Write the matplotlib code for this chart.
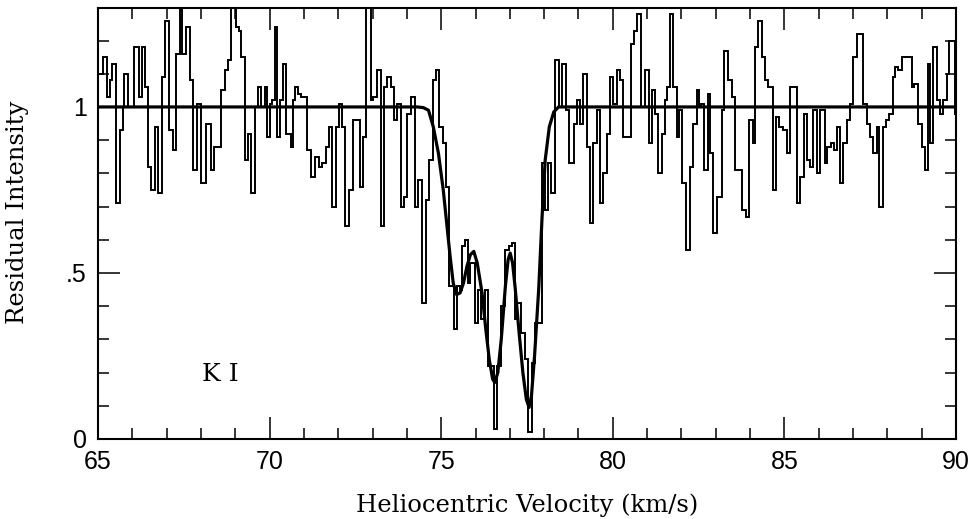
import matplotlib
matplotlib.use("Agg")
import matplotlib.pyplot as plt
from matplotlib.ticker import MultipleLocator

# observed spectrum: left edge of each step (km/s) and residual intensity
bin_left = [
    65.00, 65.14, 65.25, 65.35, 65.41, 65.52, 65.64, 65.72, 65.76, 65.87,
    66.06, 66.19, 66.27, 66.38, 66.47, 66.54, 66.67, 66.76, 66.86, 66.95,
    67.06, 67.18, 67.27, 67.39, 67.45, 67.56, 67.69, 67.78, 67.88, 68.01,
    68.15, 68.29, 68.39, 68.59, 68.69, 68.79, 68.87, 69.03, 69.10, 69.18,
    69.27, 69.37, 69.47, 69.58, 69.66, 69.76, 69.86, 69.93, 70.00, 70.07,
    70.15, 70.22, 70.29, 70.39, 70.49, 70.61, 70.68, 70.75, 70.83, 70.91,
    71.08, 71.20, 71.33, 71.43, 71.53, 71.63, 71.72, 71.82, 71.94, 72.03,
    72.10, 72.20, 72.32, 72.42, 72.62, 72.71, 72.81, 72.95, 73.02, 73.14,
    73.24, 73.33, 73.43, 73.53, 73.62, 73.72, 73.82, 73.91, 74.01, 74.11,
    74.24, 74.33, 74.43, 74.56, 74.65, 74.75, 74.85, 74.95, 75.04, 75.14,
    75.24, 75.38, 75.45, 75.55, 75.61, 75.68, 75.78, 75.85, 75.98, 76.07,
    76.17, 76.27, 76.36, 76.53, 76.63, 76.75, 76.85, 76.97, 77.06, 77.14,
    77.21, 77.33, 77.43, 77.53, 77.65, 77.72, 77.94, 78.01, 78.11, 78.21,
    78.31, 78.42, 78.52, 78.64, 78.73, 78.86, 78.96, 79.03, 79.12, 79.24,
    79.34, 79.43, 79.53, 79.63, 79.72, 79.82, 79.92, 80.02, 80.11, 80.21,
    80.31, 80.54, 80.62, 80.70, 80.83, 80.93, 81.05, 81.15, 81.23, 81.32,
    81.44, 81.51, 81.59, 81.67, 81.76, 81.86, 81.93, 82.03, 82.12, 82.25,
    82.35, 82.44, 82.51, 82.58, 82.66, 82.76, 82.83, 82.93, 83.05, 83.17,
    83.24, 83.37, 83.46, 83.56, 83.75, 83.88, 83.98, 84.08, 84.14, 84.24,
    84.34, 84.43, 84.53, 84.66, 84.76, 84.85, 84.95, 85.09, 85.16, 85.38,
    85.45, 85.57, 85.67, 85.75, 85.84, 85.94, 86.04, 86.18, 86.25, 86.35,
    86.45, 86.54, 86.62, 86.72, 86.81, 86.91, 87.01, 87.11, 87.30, 87.40,
    87.49, 87.59, 87.69, 87.77, 87.86, 87.96, 88.06, 88.16, 88.22, 88.32,
    88.42, 88.71, 88.78, 88.90, 89.00, 89.10, 89.17, 89.24, 89.34, 89.44,
    89.53, 89.63, 89.73, 89.81, 89.97,
]
intensity = [
    1.10, 1.15, 1.03, 1.08, 1.13, 0.71, 0.93, 1.00, 1.10, 1.00,
    1.18, 1.03, 1.18, 1.06, 0.82, 0.75, 0.94, 0.74, 1.09, 1.26,
    0.93, 0.87, 1.16, 1.35, 1.16, 1.24, 1.08, 0.81, 1.01, 0.77,
    0.95, 0.81, 0.88, 1.05, 1.11, 1.14, 1.35, 1.24, 1.23, 1.15,
    0.84, 0.92, 0.74, 1.00, 1.06, 1.00, 1.06, 0.91, 1.01, 1.02,
    1.24, 0.91, 1.02, 1.13, 0.92, 0.88, 1.02, 1.06, 1.04, 1.03,
    0.87, 0.79, 0.85, 0.82, 0.83, 0.88, 0.94, 0.70, 0.94, 1.01,
    0.94, 0.64, 0.75, 0.96, 0.76, 0.91, 1.35, 1.02, 1.03, 1.11,
    0.64, 1.06, 1.09, 1.06, 0.96, 1.01, 0.70, 0.73, 0.98, 1.03,
    0.70, 0.78, 0.41, 0.72, 0.84, 1.08, 1.11, 0.94, 0.89, 0.76,
    0.46, 0.33, 0.46, 0.45, 0.58, 0.60, 0.47, 0.53, 0.35, 0.45,
    0.36, 0.45, 0.22, 0.03, 0.22, 0.40, 0.57, 0.58, 0.59, 0.36,
    0.41, 0.32, 0.24, 0.02, 0.23, 0.35, 0.83, 0.69, 0.83, 0.74,
    1.14, 1.00, 1.13, 0.99, 0.83, 0.95, 1.02, 0.95, 1.10, 0.88,
    0.65, 0.89, 0.99, 0.71, 0.80, 0.92, 1.09, 1.01, 1.11, 1.08,
    0.91, 1.19, 1.23, 1.28, 1.00, 1.11, 0.89, 1.05, 0.98, 0.80,
    0.92, 1.02, 1.06, 1.28, 1.06, 0.91, 0.99, 0.77, 0.57, 0.82,
    0.95, 1.05, 1.00, 1.01, 0.81, 1.04, 0.86, 0.62, 0.73, 0.99,
    1.17, 1.08, 1.03, 0.81, 0.69, 0.67, 0.96, 0.89, 1.18, 1.26,
    1.15, 1.08, 1.06, 0.75, 0.97, 0.94, 0.93, 0.86, 1.06, 0.71,
    0.79, 0.98, 0.84, 0.82, 0.99, 0.80, 0.99, 0.83, 0.88, 0.89,
    0.87, 0.94, 0.77, 0.89, 0.96, 1.01, 1.15, 1.22, 1.01, 0.95,
    0.91, 0.86, 0.94, 0.70, 0.94, 0.96, 0.98, 1.09, 1.12, 1.11,
    1.15, 1.06, 1.07, 0.95, 0.88, 0.81, 1.13, 0.89, 1.18, 1.02,
    0.98, 1.02, 1.10, 1.20, 0.98,
]
v_end = 90.0

# fitted profile
fit_vel = [
    65.0, 74.30, 74.48, 74.63, 74.77, 74.92, 75.06, 75.16, 75.26, 75.35,
    75.45, 75.55, 75.65, 75.75, 75.85, 75.95, 76.05, 76.19, 76.30, 76.40,
    76.50, 76.56, 76.65, 76.75, 76.87, 76.95, 77.01, 77.08, 77.16, 77.27,
    77.38, 77.48, 77.56, 77.63, 77.72, 77.84, 77.94, 78.03, 78.15, 78.28,
    78.42, 90.0,
]
fit_int = [
    1.0, 1.0, 0.998, 0.99, 0.94, 0.86, 0.75, 0.65, 0.55, 0.47,
    0.435, 0.44, 0.47, 0.52, 0.555, 0.565, 0.53, 0.44, 0.33, 0.24,
    0.18, 0.17, 0.20, 0.30, 0.46, 0.54, 0.56, 0.53, 0.45, 0.32,
    0.20, 0.12, 0.095, 0.13, 0.25, 0.45, 0.67, 0.84, 0.94, 0.985,
    1.0, 1.0,
]

y_ticks = [0, 0.5, 1]
y_tick_labels = ["0", ".5", "1"]
x_ticks = [65, 70, 75, 80, 85, 90]

LABEL_FONT = ["DejaVu Serif"]
TICK_FONT = ["Liberation Sans", "DejaVu Sans"]

fig = plt.figure(figsize=(9.73, 5.19), dpi=100)
ax = fig.add_axes([98 / 973, 1 - 439 / 519, (956 - 98) / 973, (439 - 8) / 519])

edges = bin_left + [v_end]
ax.stairs(intensity, edges, baseline=None, color="black", linewidth=1.4)
ax.plot(fit_vel, fit_int, color="black", linewidth=2.3, solid_joinstyle="round")

ax.set_xlim(65, 90)
ax.set_ylim(0, 1.298)

ax.set_xticks(x_ticks)
ax.set_xticklabels([str(t) for t in x_ticks], family=TICK_FONT, fontsize=18)
ax.set_yticks(y_ticks)
ax.set_yticklabels(y_tick_labels, family=TICK_FONT, fontsize=18)
ax.xaxis.set_minor_locator(MultipleLocator(1))
ax.yaxis.set_minor_locator(MultipleLocator(0.1))
ax.tick_params(which="both", direction="in", top=True, right=True, width=1.1)
ax.tick_params(which="major", length=16, pad=8)
ax.tick_params(which="minor", length=8)
for spine in ax.spines.values():
    spine.set_linewidth(1.5)

ax.text(68.55, 0.195, "K I", family=LABEL_FONT, fontsize=18, ha="center", va="center")

fig.text(527 / 973, 1 - 505 / 519, "Heliocentric Velocity (km/s)", family=LABEL_FONT,
         fontsize=17.5, ha="center", va="center")
fig.text(18 / 973, 1 - 212 / 519, "Residual Intensity", family=LABEL_FONT,
         fontsize=17.5, ha="center", va="center", rotation=90)

fig.savefig("out.png", dpi=100)
